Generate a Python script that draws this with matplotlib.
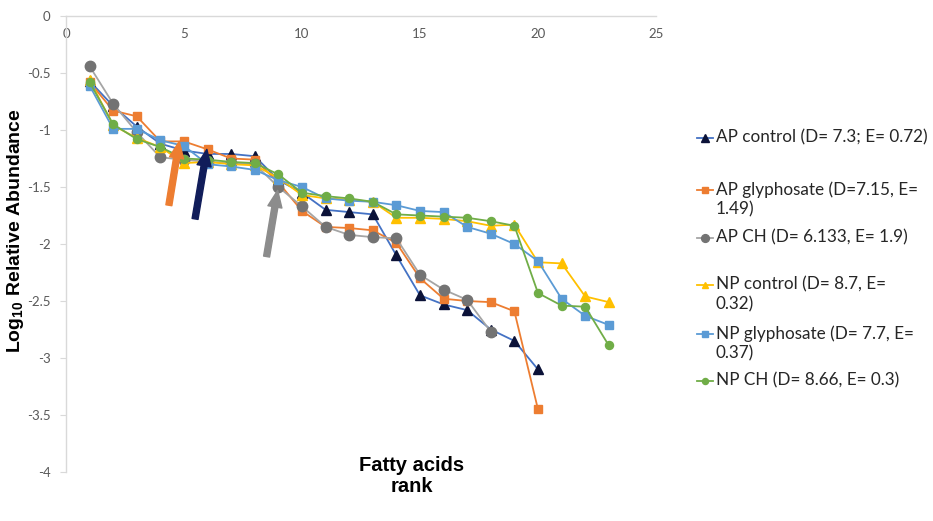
import matplotlib
matplotlib.use("Agg")
import matplotlib.pyplot as plt
from matplotlib.lines import Line2D

plt.rcParams['mathtext.fontset'] = 'custom'
plt.rcParams['mathtext.rm'] = 'Liberation Sans:bold'
plt.rcParams['mathtext.bf'] = 'Liberation Sans:bold'

# log10 relative abundance of each fatty acid, by rank
rank_ap_ctrl = list(range(1, 21))
ap_control = [-0.57, -0.79, -0.97, -1.12, -1.18, -1.21, -1.21, -1.23, -1.44, -1.55,
              -1.70, -1.72, -1.74, -2.10, -2.45, -2.53, -2.58, -2.75, -2.85, -3.10]
rank_ap_gly = list(range(1, 21))
ap_glyphosate = [-0.58, -0.83, -0.88, -1.10, -1.10, -1.17, -1.25, -1.26, -1.46, -1.71,
                 -1.85, -1.86, -1.88, -1.99, -2.30, -2.48, -2.50, -2.51, -2.59, -3.45]
rank_ap_ch = list(range(1, 19))
ap_ch = [-0.44, -0.77, -1.02, -1.24, -1.26, -1.28, -1.29, -1.30, -1.50, -1.67,
         -1.85, -1.92, -1.94, -1.95, -2.27, -2.40, -2.49, -2.77]
rank_np = list(range(1, 24))
np_control = [-0.56, -0.96, -1.07, -1.15, -1.29, -1.28, -1.30, -1.31, -1.42, -1.57,
              -1.60, -1.61, -1.63, -1.77, -1.77, -1.78, -1.80, -1.84, -1.83, -2.16,
              -2.17, -2.46, -2.51]
np_glyphosate = [-0.61, -0.99, -0.99, -1.09, -1.14, -1.30, -1.32, -1.35, -1.44, -1.50,
                 -1.60, -1.62, -1.63, -1.66, -1.71, -1.72, -1.85, -1.91, -2.00, -2.15,
                 -2.48, -2.63, -2.71]
np_ch = [-0.58, -0.95, -1.08, -1.15, -1.25, -1.26, -1.28, -1.29, -1.39, -1.55,
         -1.58, -1.60, -1.63, -1.74, -1.75, -1.76, -1.77, -1.80, -1.84, -2.43,
         -2.54, -2.55, -2.89]

labels = ["AP control (D= 7.3; E= 0.72)",
          "AP glyphosate (D=7.15, E=\n1.49)",
          "AP CH (D= 6.133, E= 1.9)",
          "NP control (D= 8.7, E=\n0.32)",
          "NP glyphosate (D= 7.7, E=\n0.37)",
          "NP CH (D= 8.66, E= 0.3)"]

# arrows pointing at the break in each AP curve
arrow_tails = [(4.36, -1.66), (5.47, -1.78), (8.50, -2.11)]
arrow_tips = [(4.80, -1.10), (5.97, -1.17), (8.97, -1.53)]
arrow_colors = ['#ED7D31', '#111D5A', '#8C8C8C']

series = [
    (rank_ap_ctrl, ap_control, dict(color='#4472C4', marker='^', ms=7, mfc='#0B1238', mec='#0B1238')),
    (rank_ap_gly, ap_glyphosate, dict(color='#ED7D31', marker='s', ms=6.3, mfc='#ED7D31', mec='#ED7D31')),
    (rank_ap_ch, ap_ch, dict(color='#A5A5A5', marker='o', ms=7.5, mfc='#737373', mec='#737373')),
    (rank_np, np_control, dict(color='#FFC000', marker='^', ms=6.5, mfc='#FFC000', mec='#FFC000')),
    (rank_np, np_glyphosate, dict(color='#5B9BD5', marker='s', ms=6.3, mfc='#5B9BD5', mec='#5B9BD5')),
    (rank_np, np_ch, dict(color='#70AD47', marker='o', ms=5.8, mfc='#70AD47', mec='#70AD47')),
]

fig = plt.figure(figsize=(9.33, 5.21), dpi=100)
ax = fig.add_axes([0.0707, 0.094, 0.6324, 0.8753])

for x, y, st in series:
    ax.plot(x, y, lw=1.3, **st)

for tail, tip, c in zip(arrow_tails, arrow_tips, arrow_colors):
    ax.annotate('', xy=tip, xytext=tail,
                arrowprops=dict(arrowstyle='simple,head_length=1.0,head_width=0.85,tail_width=0.36',
                                color=c, mutation_scale=12, shrinkA=0, shrinkB=0))

ax.set_xlim(0, 25)
ax.set_ylim(-4, 0)
ax.set_xticks([0, 5, 10, 15, 20, 25])
ax.set_yticks([0, -0.5, -1, -1.5, -2, -2.5, -3, -3.5, -4])
ax.set_yticklabels(['0', '-0.5', '-1', '-1.5', '-2', '-2.5', '-3', '-3.5', '-4'])
ax.xaxis.tick_top()
ax.tick_params(axis='x', length=0, pad=-17, labelsize=9.5, labelcolor='#595959')
ax.tick_params(axis='y', length=4, width=0.8, color='#D9D9D9', pad=7,
               labelsize=9.5, labelcolor='#595959')
for lab in ax.get_xticklabels() + ax.get_yticklabels():
    lab.set_family('Lato')

for side in ['right', 'bottom']:
    ax.spines[side].set_visible(False)
for side in ['left', 'top']:
    ax.spines[side].set_color('#D9D9D9')
    ax.spines[side].set_linewidth(1.0)

ax.set_ylabel(r'Log$_{10}$ Relative Abundance', fontsize=14, fontweight='bold',
              family='Liberation Sans')
ax.yaxis.set_label_coords(-0.068, 0.53)
fig.text(412 / 933, 1 - 476 / 521, 'Fatty acids\nrank', ha='center', va='center',
         fontsize=14.5, fontweight='bold', family='Liberation Sans', linespacing=1.15)

# legend, laid out row by row on the right
row_y = [138, 190, 238, 285, 334, 381]
for (x, y, st), lab, ry in zip(series, labels, row_y):
    fy = 1 - ry / 521
    fig.add_artist(Line2D([697 / 933, 713 / 933], [fy, fy], transform=fig.transFigure,
                          color=st['color'], lw=1.3))
    fig.add_artist(Line2D([705 / 933], [fy], transform=fig.transFigure, marker=st['marker'],
                          ms=st['ms'] * 0.75, mfc=st['mfc'], mec=st['mec'], lw=0))
    fig.text(716 / 933, fy + 9 / 521, lab, ha='left', va='top', fontsize=12.3,
             family='Lato', color='#262626', linespacing=1.32)

fig.savefig('out.png', dpi=100)
